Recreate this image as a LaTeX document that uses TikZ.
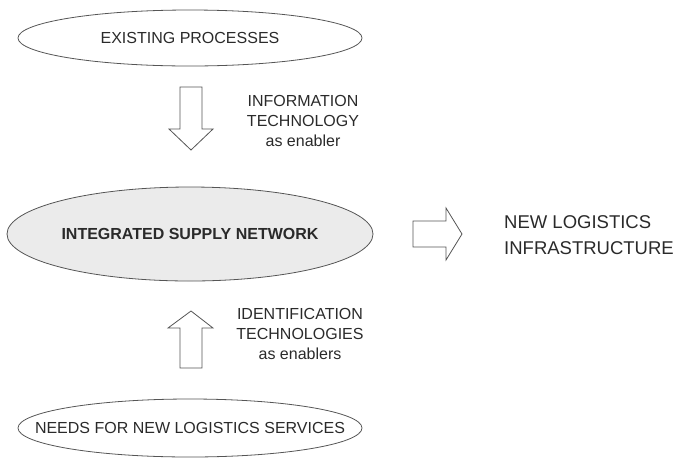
\documentclass[tikz,border=0pt]{standalone}
\usepackage{fontspec}
\setmainfont{Liberation Sans}
\usetikzlibrary{shapes.geometric}
\definecolor{ink}{HTML}{2A2A2A}
\definecolor{edge}{HTML}{555555}
\definecolor{fillgray}{HTML}{EBEBEB}
\begin{document}
\begin{tikzpicture}[x=1pt,y=-1pt,
  oval/.style={ellipse,draw=edge,line width=0.8pt,inner xsep=-40pt,inner ysep=0pt,text=ink,font=\fontsize{16}{20}\selectfont},
  lab/.style={align=center,text=ink,inner sep=0pt,font=\fontsize{16}{20}\selectfont},
  blockarrow/.style={draw=edge,line width=0.8pt,fill=white,line join=miter}]
\useasboundingbox (0,0) rectangle (682,459);
\node[oval,minimum width=344pt,minimum height=56pt] (exist) at (190,38) {EXISTING PROCESSES};
\node[oval,fill=fillgray,minimum width=366pt,minimum height=94pt,font=\fontsize{16}{20}\selectfont\bfseries] (isn) at (190,234) {INTEGRATED SUPPLY NETWORK};
\node[oval,minimum width=344pt,minimum height=58pt] (needs) at (190,428) {NEEDS FOR NEW LOGISTICS SERVICES};
% down arrow
\draw[blockarrow] (180,87) -- (202,87) -- (202,129) -- (213,129) -- (191,150) -- (169,129) -- (180,129) -- cycle;
% up arrow
\draw[blockarrow] (180,368) -- (202,368) -- (202,328) -- (213,328) -- (191,311) -- (168,328) -- (180,328) -- cycle;
% right arrow
\draw[blockarrow] (413,221) -- (446,221) -- (446,208) -- (462,234) -- (446,260) -- (446,247) -- (413,247) -- cycle;
\node[lab] (it) at (303,121) {INFORMATION\\TECHNOLOGY\\as enabler};
\node[lab] (idt) at (300,334) {IDENTIFICATION\\TECHNOLOGIES\\as enablers};
\node[lab,align=left,anchor=west,font=\fontsize{18.5}{26}\selectfont] (nli) at (504,235) {NEW LOGISTICS\\INFRASTRUCTURE};
\end{tikzpicture}
\end{document}
